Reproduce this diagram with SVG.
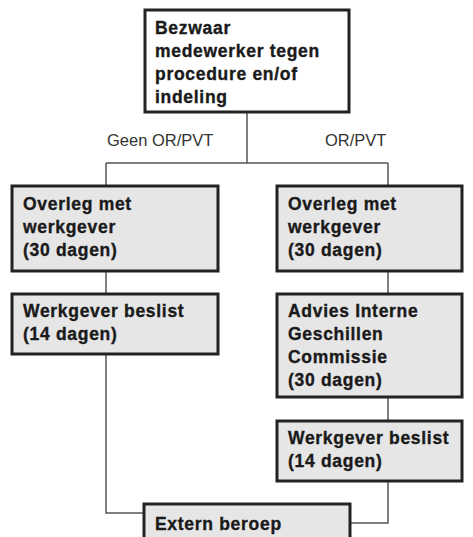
<svg xmlns="http://www.w3.org/2000/svg" width="473" height="537" viewBox="0 0 473 537">
<style>
.box{fill:#e6e6e7;stroke:#222;stroke-width:3}
.top{fill:#fff;stroke:#222;stroke-width:3}
.t{font-family:"Liberation Sans",Arial,sans-serif;font-weight:bold;font-size:17.5px;letter-spacing:0.7px;fill:#1a1a1a;stroke:#1a1a1a;stroke-width:0.35}
.lbl{font-family:"Liberation Sans",Arial,sans-serif;font-size:16.5px;fill:#333}
.c{fill:none;stroke:#555;stroke-width:1.5}
</style>
<rect width="473" height="537" fill="#fff"/>
<g id="connectors">
<path class="c" d="M247,112 V163 M106,163 H388 M106,163 V186 M388,163 V186"/>
<path class="c" d="M106,271 V294 M388,271 V294 M388,397 V421"/>
<path class="c" d="M106,354 V513 H144 M388,481 V523 H350"/>
</g>
<g id="labels">
<text class="lbl" x="107" y="146">Geen OR/PVT</text>
<text class="lbl" x="325" y="146">OR/PVT</text>
</g>
<g id="bezwaar">
<rect class="top" x="145" y="10" width="204" height="102"/>
<text class="t" x="155" y="34">Bezwaar</text>
<text class="t" x="155" y="57">medewerker tegen</text>
<text class="t" x="155" y="80">procedure en/of</text>
<text class="t" x="155" y="103">indeling</text>
</g>
<g id="overleg-links">
<rect class="box" x="12" y="186" width="206" height="85"/>
<text class="t" x="23" y="210">Overleg met</text>
<text class="t" x="23" y="233">werkgever</text>
<text class="t" x="23" y="256">(30 dagen)</text>
</g>
<g id="beslist-links">
<rect class="box" x="12" y="294" width="206" height="60"/>
<text class="t" x="23" y="317">Werkgever beslist</text>
<text class="t" x="23" y="340">(14 dagen)</text>
</g>
<g id="overleg-rechts">
<rect class="box" x="277" y="186" width="185" height="85"/>
<text class="t" x="288" y="210">Overleg met</text>
<text class="t" x="288" y="233">werkgever</text>
<text class="t" x="288" y="256">(30 dagen)</text>
</g>
<g id="advies">
<rect class="box" x="277" y="294" width="185" height="103"/>
<text class="t" x="288" y="317">Advies Interne</text>
<text class="t" x="288" y="340">Geschillen</text>
<text class="t" x="288" y="363">Commissie</text>
<text class="t" x="288" y="386">(30 dagen)</text>
</g>
<g id="beslist-rechts">
<rect class="box" x="277" y="421" width="185" height="60"/>
<text class="t" x="288" y="444">Werkgever beslist</text>
<text class="t" x="288" y="467">(14 dagen)</text>
</g>
<g id="extern">
<rect class="box" x="144" y="504" width="206" height="40"/>
<text class="t" x="155" y="530">Extern beroep</text>
</g>
</svg>
